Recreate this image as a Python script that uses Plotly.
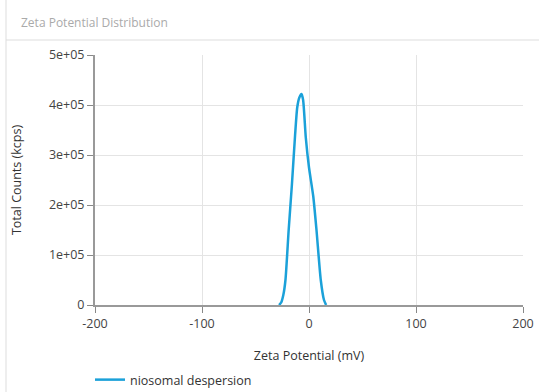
import plotly.graph_objects as go

zeta_mv = [-28, -26, -24, -22, -19, -16, -13, -11, -9, -7, -5.5, -3, 0, 4, 7, 11, 14, 16]
counts = [0, 0.05e5, 0.2e5, 0.5e5, 1.5e5, 2.4e5, 3.4e5, 3.95e5, 4.15e5, 4.22e5, 4.1e5, 3.35e5, 2.75e5, 2.17e5, 1.5e5, 0.5e5, 0.1e5, 0]
series_name = "niosomal despersion"
x_ticks = [-200, -100, 0, 100, 200]
x_tick_labels = ["-200", "-100", "0", "100", "200"]
y_ticks = [0, 1e5, 2e5, 3e5, 4e5, 5e5]
y_tick_labels = ["0", "1e+05", "2e+05", "3e+05", "4e+05", "5e+05"]

W, H = 539, 392
L, R, T, B = 95, 16, 55, 87
pw, ph = W - L - R, H - T - B

def px_x(p):
    return (p - L) / pw

def px_y(p):
    return (H - B - p) / ph

fig = go.Figure()
fig.add_trace(go.Scatter(
    x=zeta_mv, y=counts, mode="lines", name=series_name,
    line=dict(color="#1ba1d9", width=2.5, shape="spline", smoothing=0.6),
    showlegend=True,
))

font = "Open Sans, Noto Sans, sans-serif"
fig.update_layout(
    template="none",
    width=W, height=H,
    margin=dict(l=L, r=R, t=T, b=B, autoexpand=False),
    paper_bgcolor="white", plot_bgcolor="white",
    font=dict(family=font, size=12, color="#444"),
    xaxis=dict(
        range=[-200, 200], tickvals=x_ticks, ticktext=x_tick_labels, ticks="outside", ticklen=6,
        tickcolor="#888", showline=True, linecolor="#999", linewidth=2,
        showgrid=True, gridcolor="#e4e4e4", zeroline=False, automargin=False,
        layer="above traces",
        title=dict(text="Zeta Potential (mV)", font=dict(size=12.5, color="#333"), standoff=20),
        tickfont=dict(size=12.5, color="#444"),
    ),
    yaxis=dict(
        range=[0, 5e5], tickvals=y_ticks, ticktext=y_tick_labels, ticks="outside", ticklen=6,
        tickcolor="#888", showline=True, linecolor="#999", linewidth=2,
        showgrid=True, gridcolor="#e4e4e4", zeroline=False, automargin=False,
        title=dict(text="Total Counts (kcps)", font=dict(size=12.5, color="#333"), standoff=25),
        tickfont=dict(size=12.5, color="#444"),
    ),
    legend=dict(
        orientation="h", x=px_x(90), y=px_y(380), xanchor="left", yanchor="middle",
        font=dict(size=12.5, color="#333"), bgcolor="rgba(0,0,0,0)", itemwidth=30,
    ),
    shapes=[
        dict(type="line", xref="paper", yref="paper", x0=px_x(6), x1=px_x(6),
             y0=px_y(0), y1=px_y(392), line=dict(color="#dddddd", width=1)),
        dict(type="line", xref="paper", yref="paper", x0=px_x(6), x1=px_x(539),
             y0=px_y(40), y1=px_y(40), line=dict(color="#dddddd", width=1)),
    ],
    annotations=[
        dict(text="Zeta Potential Distribution", xref="paper", yref="paper",
             x=px_x(19), y=px_y(22), xanchor="left", yanchor="middle", showarrow=False,
             font=dict(size=12, color="#aaaaaa", family=font)),
    ],
)

fig.write_html("out.html")
